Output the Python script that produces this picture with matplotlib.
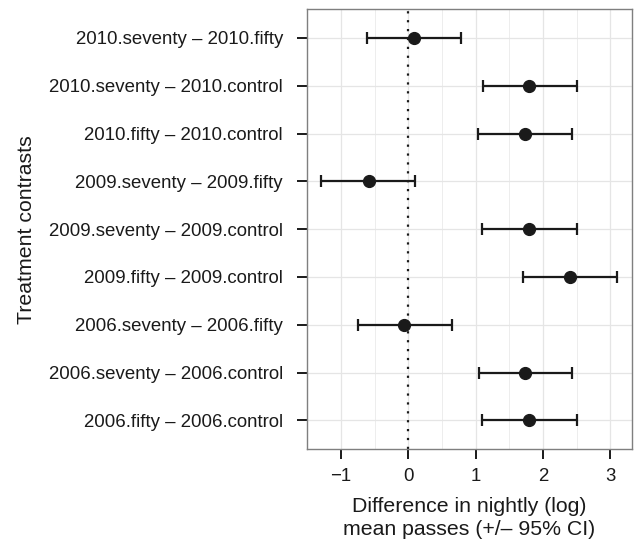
import matplotlib
matplotlib.use("Agg")
import matplotlib.pyplot as plt
from matplotlib.ticker import MultipleLocator
from matplotlib.transforms import blended_transform_factory

plt.rcParams['font.family'] = ['Liberation Sans', 'DejaVu Sans']

contrasts = [
    "2006.fifty \u2013 2006.control",
    "2006.seventy \u2013 2006.control",
    "2006.seventy \u2013 2006.fifty",
    "2009.fifty \u2013 2009.control",
    "2009.seventy \u2013 2009.control",
    "2009.seventy \u2013 2009.fifty",
    "2010.fifty \u2013 2010.control",
    "2010.seventy \u2013 2010.control",
    "2010.seventy \u2013 2010.fifty",
]
estimate = [1.79, 1.74, -0.06, 2.40, 1.80, -0.59, 1.73, 1.80, 0.085]
lower = [1.10, 1.05, -0.75, 1.70, 1.10, -1.30, 1.03, 1.11, -0.61]
upper = [2.50, 2.44, 0.65, 3.10, 2.50, 0.10, 2.43, 2.50, 0.78]

fig = plt.figure(figsize=(6.35, 5.43), dpi=100)
ax = fig.add_axes([306.7/635, 1 - 449/543, (631.7-306.7)/635, (449-9.3)/543])

ypos = list(range(1, len(contrasts) + 1))
err = [[e - l for e, l in zip(estimate, lower)], [u - e for e, u in zip(estimate, upper)]]

ax.axvline(0, color='#1a1a1a', linestyle=(0, (1, 3)), linewidth=1.6, zorder=2)
ax.errorbar(estimate, ypos, xerr=err, fmt='o', color='#1a1a1a', ecolor='#1a1a1a',
            markersize=8.5, elinewidth=1.6, capsize=4, capthick=1.6, zorder=3)

ax.set_xlim(-1.51, 3.32)
ax.set_ylim(0.4, 9.6)
ax.set_yticks(ypos)
ax.set_yticklabels(contrasts)
ax.xaxis.set_minor_locator(MultipleLocator(0.5))
ax.set_xticks([-1, 0, 1, 2, 3])
ax.set_xticklabels(["\u22121", "0", "1", "2", "3"])

ax.grid(which='major', color='#e5e5e5', linewidth=0.9)
ax.grid(which='minor', axis='x', color='#ededed', linewidth=0.7)
ax.set_axisbelow(True)
for s in ax.spines.values():
    s.set_color('#7f7f7f')
    s.set_linewidth(1.0)

ax.tick_params(axis='both', which='major', direction='out', length=7, width=1.4,
               color='#1a1a1a', labelsize=13.4, labelcolor='#1a1a1a', pad=7)
ax.tick_params(axis='y', which='major', pad=10)
ax.tick_params(axis='x', which='minor', length=0)

ax.set_xlabel("Difference in nightly (log)\nmean passes (+/\u2013 95% CI)", fontsize=15.3,
              color='#1a1a1a', labelpad=8, linespacing=1.28)
ax.set_ylabel("Treatment contrasts", fontsize=15.3, color='#1a1a1a')
ax.yaxis.set_label_coords(36/635, 0.5, transform=blended_transform_factory(fig.transFigure, ax.transAxes))

fig.savefig("out.png", dpi=100)
